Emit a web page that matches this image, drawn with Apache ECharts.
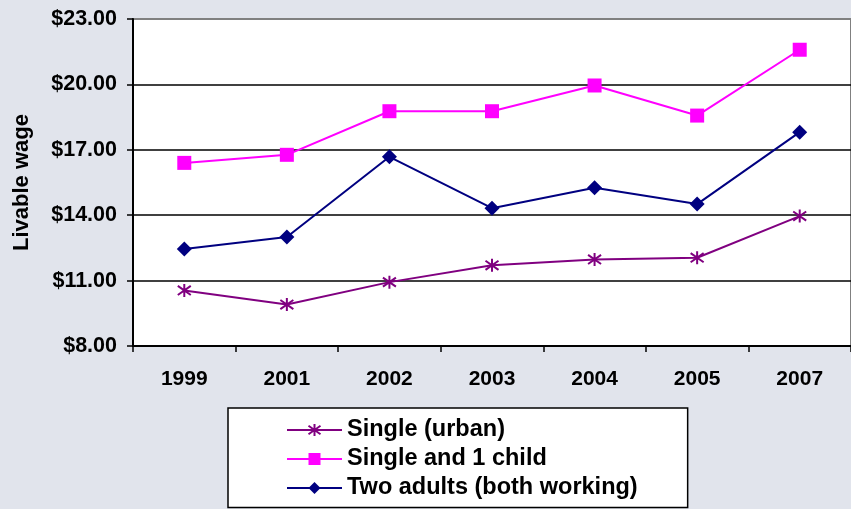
<!DOCTYPE html>
<html>
<head>
<meta charset="utf-8">
<script src="https://cdn.jsdelivr.net/npm/echarts@6/dist/echarts.min.js"></script>
<style>
  html, body { margin: 0; padding: 0; background: #e1e4ec; }
  #chart { width: 851px; height: 509px; }
</style>
</head>
<body>
<div id="chart"></div>
<script>
// years on the x axis
var years = ['1999', '2001', '2002', '2003', '2004', '2005', '2007']
// livable wage per household type
var singleUrban = [10.55, 9.90, 10.93, 11.70, 11.97, 12.05, 13.96]
var singleOneChild = [16.40, 16.77, 18.77, 18.77, 19.95, 18.57, 21.59]
var twoAdults = [12.45, 13.00, 16.68, 14.32, 15.26, 14.51, 17.81]

var font = 'Liberation Sans, Arial, sans-serif'
// asterisk marker like the excel "star"
var starPath = 'path://M5,0L5,10M0,1.5L10,8.5M0,8.5L10,1.5'

var chart = echarts.init(document.getElementById('chart'))

var option = {
  backgroundColor: '#e1e4ec',
  animation: false,
  grid: {
    left: 133,
    top: 19,
    width: 724,
    height: 327,
    show: true,
    backgroundColor: '#ffffff',
    borderColor: '#808080',
    borderWidth: 2
  },
  legend: {
    orient: 'vertical',
    left: 228,
    top: 408,
    height: 120,
    padding: [7.5, 50, 5, 58],
    itemWidth: 55,
    itemHeight: 15,
    itemGap: 0,
    backgroundColor: '#ffffff',
    borderColor: '#000000',
    borderWidth: 1.5,
    textStyle: { fontFamily: font, fontWeight: 'bold', fontSize: 23.5, lineHeight: 29, color: '#000' },
    data: ['Single (urban)', 'Single and 1 child', 'Two adults (both working)']
  },
  xAxis: {
    type: 'category',
    data: years,
    axisLine: { lineStyle: { color: '#000', width: 2 } },
    axisTick: { show: true, length: 6, lineStyle: { color: '#000', width: 1.5 } },
    axisLabel: { fontFamily: font, fontWeight: 'bold', fontSize: 21, color: '#000', margin: 23 }
  },
  yAxis: {
    type: 'value',
    min: 8,
    max: 23,
    interval: 3,
    name: 'Livable wage',
    nameLocation: 'middle',
    nameRotate: 90,
    nameGap: 100,
    nameTextStyle: { fontFamily: font, fontWeight: 'bold', fontSize: 22, color: '#000' },
    axisLine: { show: true, lineStyle: { color: '#000', width: 2 } },
    axisTick: { show: true, length: 6, lineStyle: { color: '#000', width: 1.5 } },
    axisLabel: {
      fontFamily: font, fontWeight: 'bold', fontSize: 21.5, color: '#000', margin: 16,
      formatter: function (v) { return '$' + v.toFixed(2) }
    },
    splitLine: {
      lineStyle: { color: ['#000', '#000', '#000', '#000', '#000', '#808080'], width: 1.5 }
    }
  },
  series: [
    {
      name: 'Single (urban)',
      type: 'line',
      data: singleUrban,
      symbol: starPath,
      symbolSize: 13,
      lineStyle: { color: '#800080', width: 2 },
      itemStyle: { color: '#800080', borderColor: '#800080', borderWidth: 2 },
      z: 3
    },
    {
      name: 'Single and 1 child',
      type: 'line',
      data: singleOneChild,
      symbol: 'rect',
      symbolSize: 14,
      lineStyle: { color: '#ff00ff', width: 2 },
      itemStyle: { color: '#ff00ff', borderWidth: 0 },
      z: 4
    },
    {
      name: 'Two adults (both working)',
      type: 'line',
      data: twoAdults,
      symbol: 'diamond',
      symbolSize: 15,
      lineStyle: { color: '#000080', width: 2 },
      itemStyle: { color: '#000080', borderWidth: 0 },
      z: 5
    }
  ]
}

chart.setOption(option)
</script>
</body>
</html>
